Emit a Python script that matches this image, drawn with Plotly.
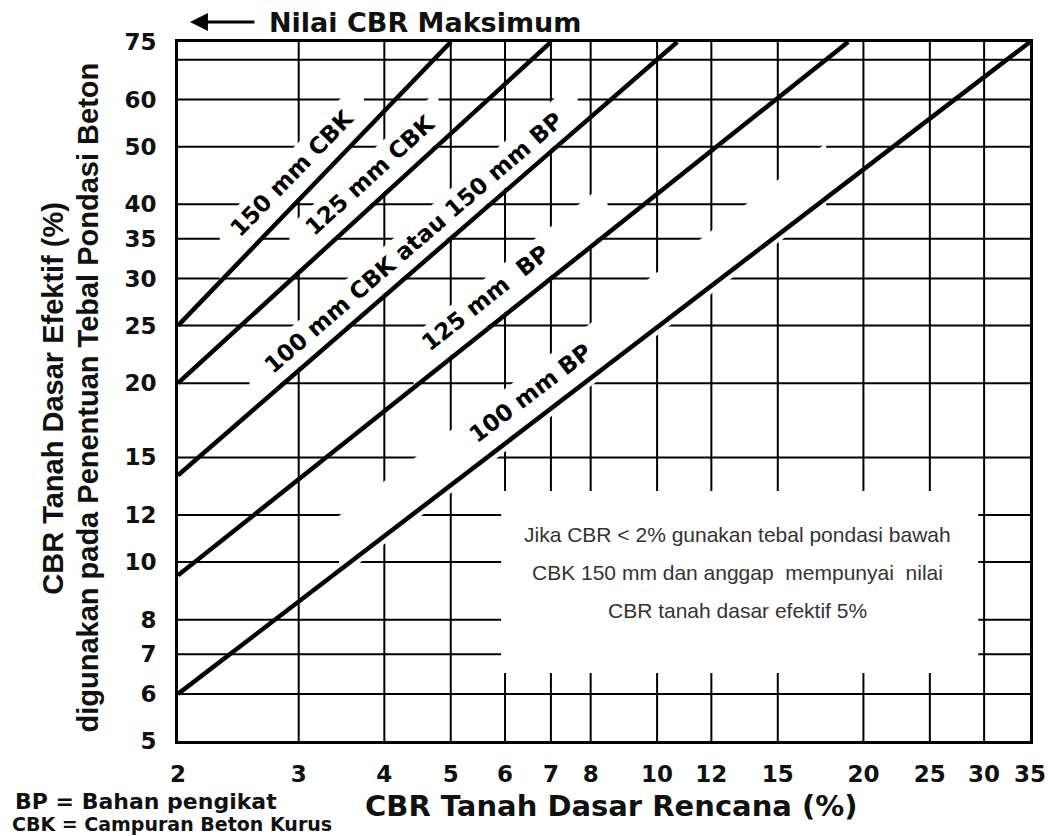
import math
import plotly.graph_objects as go

# ---------------- data ----------------
x_ticks = [2, 3, 4, 5, 6, 7, 8, 10, 12, 15, 20, 25, 30, 35]
y_ticks = [5, 6, 7, 8, 10, 12, 15, 20, 25, 30, 35, 40, 50, 60, 70, 75]
y_ticktext = ["5", "6", "7", "8", "10", "12", "15", "20", "25", "30", "35", "40", "50", "60", "", "75"]

line_names = ["150 mm CBK", "125 mm CBK", "100 mm CBK atau 150 mm BP", "125 mm  BP", "100 mm BP"]
line_x_start = [2, 2, 2, 2, 2]
line_x_end = [5, 7, 10.7, 19, 35]
line_y_start = [25, 20, 14, 9.5, 6]
line_y_end = [75, 75, 75, 75, 75]

x_range = [2, 35]
y_range = [5, 75]

# ---------------- layout geometry ----------------
W, H = 1058, 836
ML, MR, MT, MB = 178, 23, 42, 95
PW, PH = W - ML - MR, H - MT - MB
LX0, LX1 = math.log10(x_range[0]), math.log10(x_range[1])
LY0, LY1 = math.log10(y_range[0]), math.log10(y_range[1])
ppd_x = PW / (LX1 - LX0)
ppd_y = PH / (LY1 - LY0)

# label centres (log10 coordinates on the axes)
label_pos_x = [0.467, 0.581, 0.644, 0.749, 0.815]
label_pos_y = [1.655, 1.652, 1.537, 1.445, 1.285]

# white gaps in the grid along each line: pixel x-range and vertical offsets (px above line)
gap_px = [(220, 365), (290, 440), (250, 580), (415, 610), (340, 830)]
gap_off = [(0, 58), (3, 55), (3, 50), (3, 52), (-8, 55)]


def px(xp):
    return (xp - ML) / PW


def py(yp):
    return (H - MB - yp) / PH


def xpaper(v):
    return (math.log10(v) - LX0) / (LX1 - LX0)


def ypaper(v):
    return (math.log10(v) - LY0) / (LY1 - LY0)


def slope_of(i):
    return (math.log10(line_y_end[i]) - math.log10(line_y_start[i])) / \
           (math.log10(line_x_end[i]) - math.log10(line_x_start[i]))


def line_ly(i, lx):
    return math.log10(line_y_start[i]) + slope_of(i) * (lx - math.log10(line_x_start[i]))


fig = go.Figure()

for i, name in enumerate(line_names):
    fig.add_trace(go.Scatter(
        x=[line_x_start[i], line_x_end[i]],
        y=[line_y_start[i], line_y_end[i]],
        mode="lines", line=dict(color="black", width=4.5),
        showlegend=False, hoverinfo="skip"))

shapes = []
# grid lines (drawn as shapes so that white gaps can cover them)
for v in x_ticks:
    if v in x_range:
        continue
    shapes.append(dict(type="line", xref="paper", yref="paper", x0=xpaper(v), x1=xpaper(v),
                       y0=0, y1=1, line=dict(color="black", width=2), layer="below"))
for v in y_ticks:
    if v in y_range:
        continue
    shapes.append(dict(type="line", xref="paper", yref="paper", x0=0, x1=1,
                       y0=ypaper(v), y1=ypaper(v),
                       line=dict(color="black", width=2), layer="below"))

for i in range(len(line_names)):
    pts = []
    (xa, xb), (d0, d1) = gap_px[i], gap_off[i]
    for xp_, d in [(xa, d0), (xb, d0), (xb, d1), (xa, d1)]:
        lx = LX0 + (xp_ - ML) / ppd_x
        ly = line_ly(i, lx) + d / ppd_y
        pts.append(((lx - LX0) / (LX1 - LX0), (ly - LY0) / (LY1 - LY0)))
    path = "M " + " L ".join(f"{a:.5f},{b:.5f}" for a, b in pts) + " Z"
    shapes.append(dict(type="path", xref="paper", yref="paper", path=path,
                       fillcolor="white", line=dict(width=0), layer="below"))

shapes.append(dict(type="rect", xref="paper", yref="paper",
                   x0=px(503), x1=px(983), y0=py(673), y1=py(491),
                   fillcolor="white", line=dict(width=0), layer="below"))

annotations = []
for i, name in enumerate(line_names):
    ang = -math.degrees(math.atan(slope_of(i) * ppd_y / ppd_x))
    annotations.append(dict(
        x=label_pos_x[i], y=label_pos_y[i], xref="x", yref="y",
        text=name, showarrow=False, textangle=ang,
        font=dict(family="DejaVu Sans", size=23, color="black", weight="bold"),
        bgcolor="white", borderpad=2, xanchor="center", yanchor="middle"))

# note text
note_lines = ["Jika CBR &lt; 2% gunakan tebal pondasi bawah",
              "CBK 150 mm dan anggap  mempunyai  nilai",
              "CBR tanah dasar efektif 5%"]
note_y = [534, 572, 610]
for t, yy in zip(note_lines, note_y):
    annotations.append(dict(x=px(741), y=py(yy), xref="paper", yref="paper", text=t,
                            showarrow=False, xanchor="center", yanchor="middle",
                            font=dict(family="Liberation Sans", size=21, color="#333333")))

# top arrow + label
annotations.append(dict(x=px(190), y=py(22), xref="paper", yref="paper", text="",
                        showarrow=True, ax=66, ay=0, arrowhead=2, arrowsize=1.2,
                        arrowwidth=3, arrowcolor="black"))
annotations.append(dict(x=px(268), y=py(22), xref="paper", yref="paper",
                        text="Nilai CBR Maksimum", showarrow=False,
                        xanchor="left", yanchor="middle",
                        font=dict(family="DejaVu Sans", size=27, color="#111111", weight="bold")))

# axis titles
annotations.append(dict(x=px(614), y=py(806), xref="paper", yref="paper",
                        text="CBR Tanah Dasar Rencana (%)", showarrow=False,
                        xanchor="center", yanchor="middle",
                        font=dict(family="DejaVu Sans", size=29, color="#111111", weight="bold")))
annotations.append(dict(x=px(52), y=py(398), xref="paper", yref="paper",
                        text="CBR Tanah Dasar Efektif (%)", showarrow=False, textangle=-90,
                        xanchor="center", yanchor="middle",
                        font=dict(family="Liberation Sans", size=29, color="#111111", weight="bold")))
annotations.append(dict(x=px(87), y=py(398), xref="paper", yref="paper",
                        text="digunakan pada Penentuan Tebal Pondasi Beton", showarrow=False,
                        textangle=-90, xanchor="center", yanchor="middle",
                        font=dict(family="Liberation Sans", size=29, color="#111111", weight="bold")))

# legend of abbreviations
annotations.append(dict(x=px(12), y=py(801), xref="paper", yref="paper",
                        text="BP = Bahan pengikat", showarrow=False,
                        xanchor="left", yanchor="middle",
                        font=dict(family="DejaVu Sans", size=22, color="#111111", weight="bold")))
annotations.append(dict(x=px(9), y=py(824), xref="paper", yref="paper",
                        text="CBK = Campuran Beton Kurus", showarrow=False,
                        xanchor="left", yanchor="middle",
                        font=dict(family="DejaVu Sans", size=19, color="#111111", weight="bold")))

fig.update_layout(
    width=W, height=H,
    margin=dict(l=ML, r=MR, t=MT, b=MB, pad=0),
    paper_bgcolor="white", plot_bgcolor="rgba(0,0,0,0)",
    showlegend=False,
    annotations=annotations,
    shapes=shapes,
    xaxis=dict(type="log", range=[LX0, LX1],
               tickmode="array", tickvals=x_ticks, ticktext=[str(v) for v in x_ticks],
               showgrid=False,
               showline=True, linecolor="black", linewidth=3, mirror=True,
               ticks="", ticklabelstandoff=10, zeroline=False,
               tickfont=dict(family="DejaVu Sans", size=23, color="#111111", weight="bold")),
    yaxis=dict(type="log", range=[LY0, LY1],
               tickmode="array", tickvals=y_ticks, ticktext=y_ticktext,
               showgrid=False,
               showline=True, linecolor="black", linewidth=3, mirror=True,
               ticks="", ticklabelstandoff=14, zeroline=False,
               tickfont=dict(family="DejaVu Sans", size=23, color="#111111", weight="bold")),
)

fig.write_html("out.html", config={"displayModeBar": False},
               post_script="document.body.style.margin='0';")
